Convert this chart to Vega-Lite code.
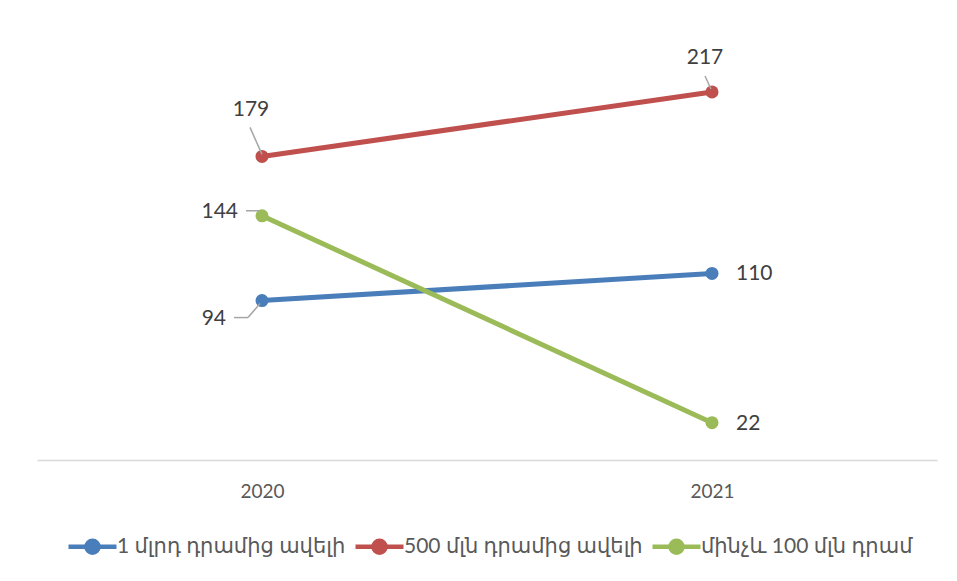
{
  "$schema": "https://vega.github.io/schema/vega-lite/v6.json",
  "width": 900,
  "height": 424,
  "autosize": {"type": "none"},
  "padding": {"left": 37, "top": 36, "right": 20, "bottom": 121},
  "background": "white",
  "data": {
    "values": [
      {"year": "2020", "series": "1 մլրդ դրամից ավելի", "value": 94},
      {"year": "2021", "series": "1 մլրդ դրամից ավելի", "value": 110},
      {"year": "2020", "series": "500 մլն դրամից ավելի", "value": 179},
      {"year": "2021", "series": "500 մլն դրամից ավելի", "value": 217},
      {"year": "2020", "series": "մինչև 100 մլն դրամ", "value": 144},
      {"year": "2021", "series": "մինչև 100 մլն դրամ", "value": 22}
    ]
  },
  "encoding": {
    "x": {
      "field": "year",
      "type": "ordinal",
      "scale": {"type": "point", "padding": 0.5},
      "axis": {
        "title": null,
        "labelAngle": 0,
        "ticks": false,
        "domainColor": "#d9d9d9",
        "domainWidth": 1.5,
        "labelPadding": 22,
        "labelFontSize": 19,
        "labelColor": "#595959",
        "labelFont": "Lato"
      }
    },
    "y": {
      "field": "value",
      "type": "quantitative",
      "scale": {"domain": [0, 250]},
      "axis": null
    }
  },
  "layer": [
    {
      "mark": {"type": "line", "strokeWidth": 5},
      "encoding": {
        "color": {
          "field": "series",
          "type": "nominal",
          "scale": {"range": ["#4a7ebb", "#c0504d", "#9bbb59"]},
          "legend": {
            "title": null,
            "orient": "none",
            "direction": "horizontal",
            "legendX": 45,
            "legendY": 500,
            "symbolType": "M-4,0L4,0M-1,0A1,1 0 1,1 1,0A1,1 0 1,1 -1,0Z",
            "symbolSize": 144,
            "symbolStrokeWidth": 4.5,
            "labelOffset": 14,
            "columnPadding": 0,
            "labelFont": "Lato, DejaVu Sans",
            "labelFontSize": 21,
            "labelColor": "#595959",
            "labelLimit": 400,
            "encode": {
              "symbols": {
                "update": {
                  "fill": {"scale": "color", "field": "value"},
                  "stroke": {"scale": "color", "field": "value"},
                  "fillOpacity": {"value": 1}
                }
              }
            }
          }
        }
      }
    },
    {
      "mark": {"type": "point", "filled": true, "size": 170, "opacity": 1},
      "encoding": {
        "color": {"field": "series", "type": "nominal", "legend": null}
      }
    },
    {
      "transform": [{"filter": "datum.series === '500 մլն դրամից ավելի' && datum.year === '2020'"}],
      "mark": {"type": "rule", "color": "#a6a6a6", "strokeWidth": 1.5, "xOffset": -12, "yOffset": -29, "x2Offset": 0, "y2Offset": -2},
      "encoding": {"x2": {"field": "year"}, "y2": {"field": "value"}}
    },
    {
      "transform": [{"filter": "datum.series === '500 մլն դրամից ավելի' && datum.year === '2021'"}],
      "mark": {"type": "rule", "color": "#a6a6a6", "strokeWidth": 1.5, "xOffset": -7, "yOffset": -16, "x2Offset": -1, "y2Offset": -3},
      "encoding": {"x2": {"field": "year"}, "y2": {"field": "value"}}
    },
    {
      "transform": [{"filter": "datum.series === 'մինչև 100 մլն դրամ' && datum.year === '2020'"}],
      "mark": {"type": "rule", "color": "#a6a6a6", "strokeWidth": 1.5, "xOffset": -16, "yOffset": -5, "x2Offset": -3, "y2Offset": -5},
      "encoding": {"x2": {"field": "year"}, "y2": {"field": "value"}}
    },
    {
      "transform": [{"filter": "datum.series === '1 մլրդ դրամից ավելի' && datum.year === '2020'"}],
      "mark": {"type": "rule", "color": "#a6a6a6", "strokeWidth": 1.5, "xOffset": -28, "yOffset": 17, "x2Offset": -14, "y2Offset": 17},
      "encoding": {"x2": {"field": "year"}, "y2": {"field": "value"}}
    },
    {
      "transform": [{"filter": "datum.series === '1 մլրդ դրամից ավելի' && datum.year === '2020'"}],
      "mark": {"type": "rule", "color": "#a6a6a6", "strokeWidth": 1.5, "xOffset": -14, "yOffset": 17, "x2Offset": -2, "y2Offset": 3},
      "encoding": {"x2": {"field": "year"}, "y2": {"field": "value"}}
    },
    {
      "transform": [{"filter": "datum.series === '500 մլն դրամից ավելի' && datum.year === '2020'"}],
      "mark": {"type": "text", "align": "center", "baseline": "middle", "dx": -11, "dy": -46, "font": "Lato", "fontSize": 21, "color": "#404040"},
      "encoding": {"text": {"field": "value"}}
    },
    {
      "transform": [{"filter": "datum.series === '500 մլն դրամից ավելի' && datum.year === '2021'"}],
      "mark": {"type": "text", "align": "center", "baseline": "middle", "dx": -7, "dy": -34, "font": "Lato", "fontSize": 21, "color": "#404040"},
      "encoding": {"text": {"field": "value"}}
    },
    {
      "transform": [{"filter": "datum.series === 'մինչև 100 մլն դրամ' && datum.year === '2020'"}],
      "mark": {"type": "text", "align": "right", "baseline": "middle", "dx": -24, "dy": -4, "font": "Lato", "fontSize": 21, "color": "#404040"},
      "encoding": {"text": {"field": "value"}}
    },
    {
      "transform": [{"filter": "datum.series === '1 մլրդ դրամից ավելի' && datum.year === '2020'"}],
      "mark": {"type": "text", "align": "right", "baseline": "middle", "dx": -36, "dy": 18, "font": "Lato", "fontSize": 21, "color": "#404040"},
      "encoding": {"text": {"field": "value"}}
    },
    {
      "transform": [{"filter": "datum.series !== '500 մլն դրամից ավելի' && datum.year === '2021'"}],
      "mark": {"type": "text", "align": "left", "baseline": "middle", "dx": 24, "dy": 1, "font": "Lato", "fontSize": 21, "color": "#404040"},
      "encoding": {"text": {"field": "value"}}
    }
  ],
  "config": {
    "view": {"stroke": null}
  }
}
